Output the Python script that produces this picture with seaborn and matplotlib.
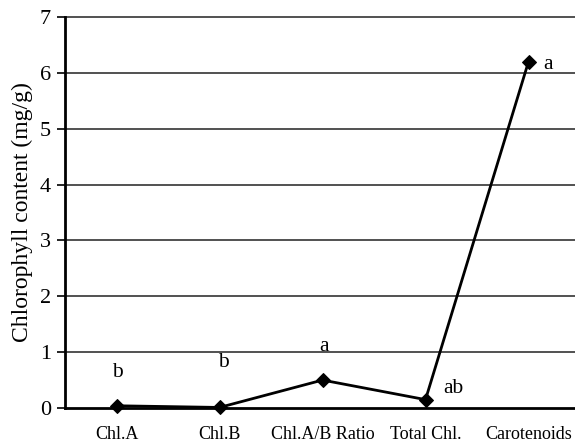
import matplotlib
matplotlib.use("Agg")
import matplotlib.pyplot as plt
import seaborn as sns
import pandas as pd
from matplotlib.ticker import FixedLocator

categories = ["Chl.A", "Chl.B", "Chl.A/B Ratio", "Total Chl.", "Carotenoids"]
values = [0.04, 0.01, 0.50, 0.15, 6.20]
letters = ["b", "b", "a", "ab", "a"]
y_ticks = [0, 1, 2, 3, 4, 5, 6, 7]
y_label = "Chlorophyll content (mg/g)"

# label offsets in points (style only)
letter_offsets = [(1, 24), (3, 32), (1, 24), (20, 8), (14, -2)]

sns.set_theme(style="white")
plt.rcParams["font.family"] = ["Liberation Serif", "DejaVu Serif"]

fig = plt.figure(figsize=(5.75, 4.44), dpi=100)
ax = fig.add_axes([65 / 575, 1 - 408 / 444, 515 / 575, (408 - 17) / 444])

df = pd.DataFrame({"cat": categories, "val": values})
sns.lineplot(data=df, x="cat", y="val", ax=ax, color="black", linewidth=2.0,
             marker="D", markersize=6.8, markeredgecolor="black",
             markerfacecolor="black", sort=False, zorder=5, clip_on=False)

ax.set_xlim(-0.5, len(categories) - 0.5)
ax.set_ylim(0, 7)
ax.set_yticks(y_ticks)
ax.set_yticklabels([str(t) for t in y_ticks], fontsize=16)
ax.set_xticks(range(len(categories)))
ax.set_xticklabels(categories, fontsize=13)
ax.tick_params(axis="x", length=0, pad=13, colors="black")
ax.xaxis.set_minor_locator(FixedLocator([2]))
ax.tick_params(axis="x", which="minor", direction="out", length=4, width=1.5, color="black")
ax.tick_params(axis="y", direction="out", length=6, width=1.2, color="black",
               pad=4, labelcolor="black", left=True)
ax.set_xlabel("")
ax.set_ylabel(y_label, fontsize=17, color="black", labelpad=5)

for t in y_ticks[1:]:
    ax.axhline(t, color="#222222", linewidth=1.1, zorder=1, clip_on=False)

for side in ["top", "right"]:
    ax.spines[side].set_visible(False)
for side in ["left", "bottom"]:
    ax.spines[side].set_color("black")
    ax.spines[side].set_linewidth(2.0)
    ax.spines[side].set_zorder(3)

for i, (lab, v) in enumerate(zip(letters, values)):
    dx, dy = letter_offsets[i]
    ax.annotate(lab, (i, v), xytext=(dx, dy), textcoords="offset points",
                ha="center", va="center", fontsize=15.5, color="black",
                annotation_clip=False)

fig.savefig("out.png", dpi=100)
